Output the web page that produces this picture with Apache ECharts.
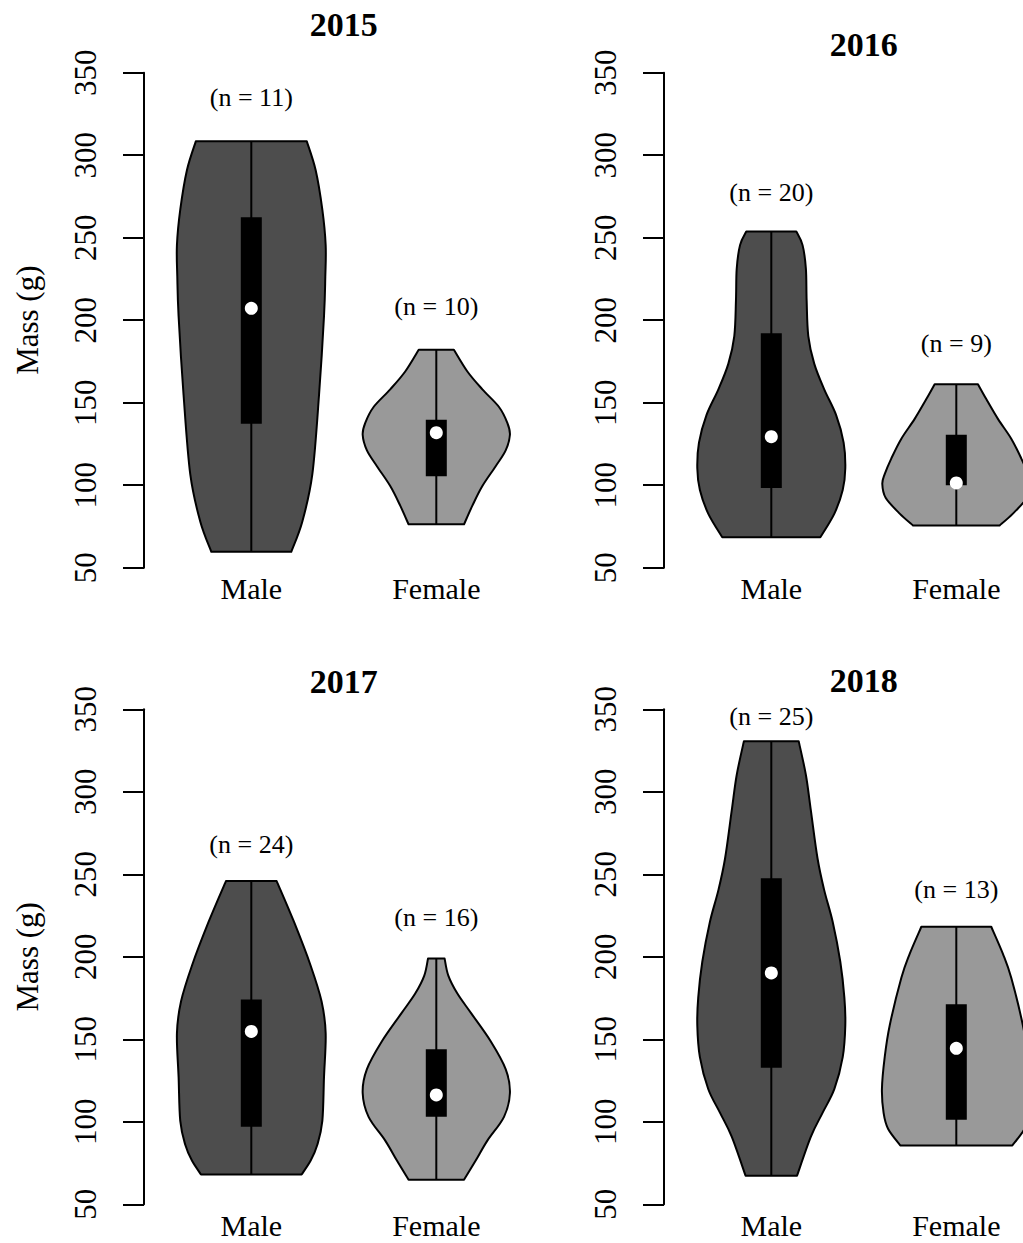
<!DOCTYPE html>
<html>
<head>
<meta charset="utf-8">
<title>Mass by sex, 2015-2018</title>
<style>
  html, body { margin: 0; padding: 0; background: #fff; }
  #chart { width: 1023px; height: 1243px; }
</style>
<script src="https://cdn.jsdelivr.net/npm/echarts@6/dist/echarts.min.js"></script>
</head>
<body>
<div id="chart"></div>
<script>
// ---- data ----
const years = ['2015', '2016', '2017', '2018'];
const sexes = ['Male', 'Female'];
const yTicks = [50, 100, 150, 200, 250, 300, 350];

const sampleSizes = [[11, 10], [20, 9], [24, 16], [25, 13]];
const medians = [[207.2, 131.8], [129.4, 101.4], [154.8, 116.3], [190.2, 144.5]];
const lowerQuartiles = [[137.3, 105.5], [98.3, 100.0], [97.0, 103.0], [132.7, 101.3]];
const upperQuartiles = [[262.4, 139.7], [192.1, 130.6], [174.1, 144.0], [247.6, 171.2]];
const minima = [[59.6, 76.3], [68.4, 75.6], [68.1, 64.9], [67.3, 85.7]];
const maxima = [[308.4, 182.1], [253.8, 161.2], [245.9, 198.9], [330.7, 218.2]];
// height (g) at which the "(n = ..)" note sits
const noteHeights = [[334.7, 208.6], [277.1, 185.6], [268.2, 224.1], [345.7, 240.6]];

// violin outlines: [mass, half width in category units], top to bottom
const violin2015Male = [[308.4, 0.300], [290.9, 0.348], [267.0, 0.384], [245.5, 0.402], [226.3, 0.400],
  [202.4, 0.393], [154.5, 0.366], [106.7, 0.330], [78.0, 0.276], [59.6, 0.216]];
const violin2015Female = [[182.1, 0.095], [168.9, 0.168], [158.1, 0.249], [147.4, 0.339], [137.8, 0.384],
  [130.6, 0.398], [121.1, 0.375], [111.5, 0.321], [99.5, 0.249], [87.6, 0.195], [76.3, 0.150]];
const violin2016Male = [[253.8, 0.135], [245.5, 0.169], [231.1, 0.187], [212.0, 0.191], [190.4, 0.200],
  [173.7, 0.232], [158.1, 0.286], [142.6, 0.350], [125.8, 0.391], [110.3, 0.400], [97.1, 0.386],
  [82.8, 0.341], [68.4, 0.265]];
const violin2016Female = [[161.2, 0.117], [152.2, 0.162], [140.2, 0.225], [128.2, 0.297], [116.3, 0.351],
  [106.7, 0.387], [100.7, 0.400], [92.4, 0.382], [82.8, 0.306], [75.6, 0.234]];
const violin2017Male = [[245.9, 0.137], [221.1, 0.231], [194.6, 0.321], [172.9, 0.380], [153.6, 0.402],
  [127.1, 0.393], [100.6, 0.384], [86.1, 0.357], [76.5, 0.321], [68.1, 0.272]];
const violin2017Female = [[198.9, 0.045], [188.6, 0.065], [177.7, 0.114], [165.7, 0.189], [148.8, 0.294],
  [131.9, 0.375], [117.5, 0.398], [103.0, 0.366], [88.6, 0.276], [76.5, 0.213], [64.9, 0.150]];
const violin2018Male = [[330.7, 0.148], [310.2, 0.187], [288.6, 0.214], [259.6, 0.250], [240.4, 0.286],
  [221.1, 0.332], [197.0, 0.373], [175.3, 0.395], [158.4, 0.400], [139.2, 0.386], [119.9, 0.341],
  [105.4, 0.277], [91.0, 0.214], [67.3, 0.139]];
const violin2018Female = [[218.2, 0.189], [201.8, 0.252], [187.3, 0.297], [158.4, 0.360], [139.2, 0.387],
  [119.9, 0.402], [105.4, 0.393], [95.8, 0.369], [85.7, 0.303]];

const violins = [
  [violin2015Male, violin2015Female],
  [violin2016Male, violin2016Female],
  [violin2017Male, violin2017Female],
  [violin2018Male, violin2018Female]
];

// ---- layout / style ----
const FONT = '"Liberation Serif", "Times New Roman", serif';
const fills = ['#4d4d4d', '#999999'];
const panels = [
  { left: 144, top: 72.7, titleTop: 7 },
  { left: 664, top: 72.7, titleTop: 27 },
  { left: 144, top: 709.3, titleTop: 664 },
  { left: 664, top: 709.3, titleTop: 663 }
];
const plotW = 399.6, plotH = 495;

// catmull-rom through the outline points -> bezier segments
function spline(pts) {
  let d = '';
  const n = pts.length;
  for (let i = 0; i < n - 1; i++) {
    const p0 = pts[Math.max(i - 1, 0)], p1 = pts[i], p2 = pts[i + 1], p3 = pts[Math.min(i + 2, n - 1)];
    const c1 = [p1[0] + (p2[0] - p0[0]) / 6, p1[1] + (p2[1] - p0[1]) / 6];
    const c2 = [p2[0] - (p3[0] - p1[0]) / 6, p2[1] - (p3[1] - p1[1]) / 6];
    d += ' C' + c1[0] + ',' + c1[1] + ' ' + c2[0] + ',' + c2[1] + ' ' + p2[0] + ',' + p2[1];
  }
  return d;
}

function violinRenderer(p) {
  return function (params, api) {
    const i = params.dataIndex;
    const c = api.value(0);
    const prof = violins[p][i];
    const right = prof.map(d => api.coord([c + d[1], d[0]]));
    const leftUp = prof.map(d => api.coord([c - d[1], d[0]])).reverse();
    const pathData = 'M' + leftUp[leftUp.length - 1][0] + ',' + leftUp[leftUp.length - 1][1] +
      ' L' + right[0][0] + ',' + right[0][1] + spline(right) +
      ' L' + leftUp[0][0] + ',' + leftUp[0][1] + spline(leftUp) + ' Z';

    const top = api.coord([c, maxima[p][i]]);
    const bot = api.coord([c, minima[p][i]]);
    const q3 = api.coord([c, upperQuartiles[p][i]]);
    const q1 = api.coord([c, lowerQuartiles[p][i]]);
    const med = api.coord([c, medians[p][i]]);
    const note = api.coord([c, noteHeights[p][i]]);

    return {
      type: 'group',
      children: [
        { type: 'path', shape: { pathData: pathData },
          style: { fill: fills[i], stroke: '#000', lineWidth: 2, lineJoin: 'round' } },
        { type: 'line', shape: { x1: top[0], y1: top[1], x2: bot[0], y2: bot[1] },
          style: { stroke: '#000', lineWidth: 2 } },
        { type: 'rect', shape: { x: q3[0] - 10.5, y: q3[1], width: 21, height: q1[1] - q3[1] },
          style: { fill: '#000' } },
        { type: 'circle', shape: { cx: med[0], cy: med[1], r: 6.5 }, style: { fill: '#fff' } },
        { type: 'text', x: note[0], y: note[1],
          style: { text: '(n = ' + sampleSizes[p][i] + ')', fill: '#000', fontFamily: FONT,
                   fontSize: 26, align: 'center', verticalAlign: 'middle' } }
      ]
    };
  };
}

const option = {
  animation: false,
  backgroundColor: '#fff',
  title: years.map((y, k) => ({
    text: y,
    left: panels[k].left + plotW / 2,
    top: panels[k].titleTop,
    textAlign: 'center',
    padding: 0,
    textStyle: { fontFamily: FONT, fontWeight: 'bold', fontSize: 34, color: '#000' }
  })),
  grid: panels.map(g => ({
    left: g.left, top: g.top, width: plotW, height: plotH,
    outerBoundsMode: 'none', containLabel: false
  })),
  xAxis: panels.map((g, k) => ({
    gridIndex: k,
    type: 'value',
    min: 0.42,
    max: 2.58,
    axisLine: { show: false },
    axisTick: { show: false },
    splitLine: { show: false },
    axisLabel: {
      customValues: [1, 2],
      formatter: v => sexes[Math.round(v) - 1],
      fontFamily: FONT, fontSize: 30, color: '#000', margin: 6
    }
  })),
  yAxis: panels.map((g, k) => ({
    gridIndex: k,
    type: 'value',
    min: yTicks[0],
    max: yTicks[yTicks.length - 1],
    interval: 50,
    name: k % 2 === 0 ? 'Mass (g)' : '',
    nameLocation: 'middle',
    nameRotate: 90,
    nameGap: 101,
    nameTextStyle: { fontFamily: FONT, fontSize: 31, color: '#000' },
    axisLine: { show: true, lineStyle: { color: '#000', width: 2 } },
    axisTick: { show: true, length: 21, lineStyle: { color: '#000', width: 2 } },
    splitLine: { show: false },
    axisLabel: { rotate: 90, margin: 43, fontFamily: FONT, fontSize: 31, color: '#000' }
  })),
  series: panels.map((g, k) => ({
    type: 'custom',
    xAxisIndex: k,
    yAxisIndex: k,
    renderItem: violinRenderer(k),
    data: sexes.map((s, i) => [i + 1]),
    clip: false,
    silent: true
  }))
};

const chart = echarts.init(document.getElementById('chart'), null, { renderer: 'svg' });
chart.setOption(option);
</script>
</body>
</html>
